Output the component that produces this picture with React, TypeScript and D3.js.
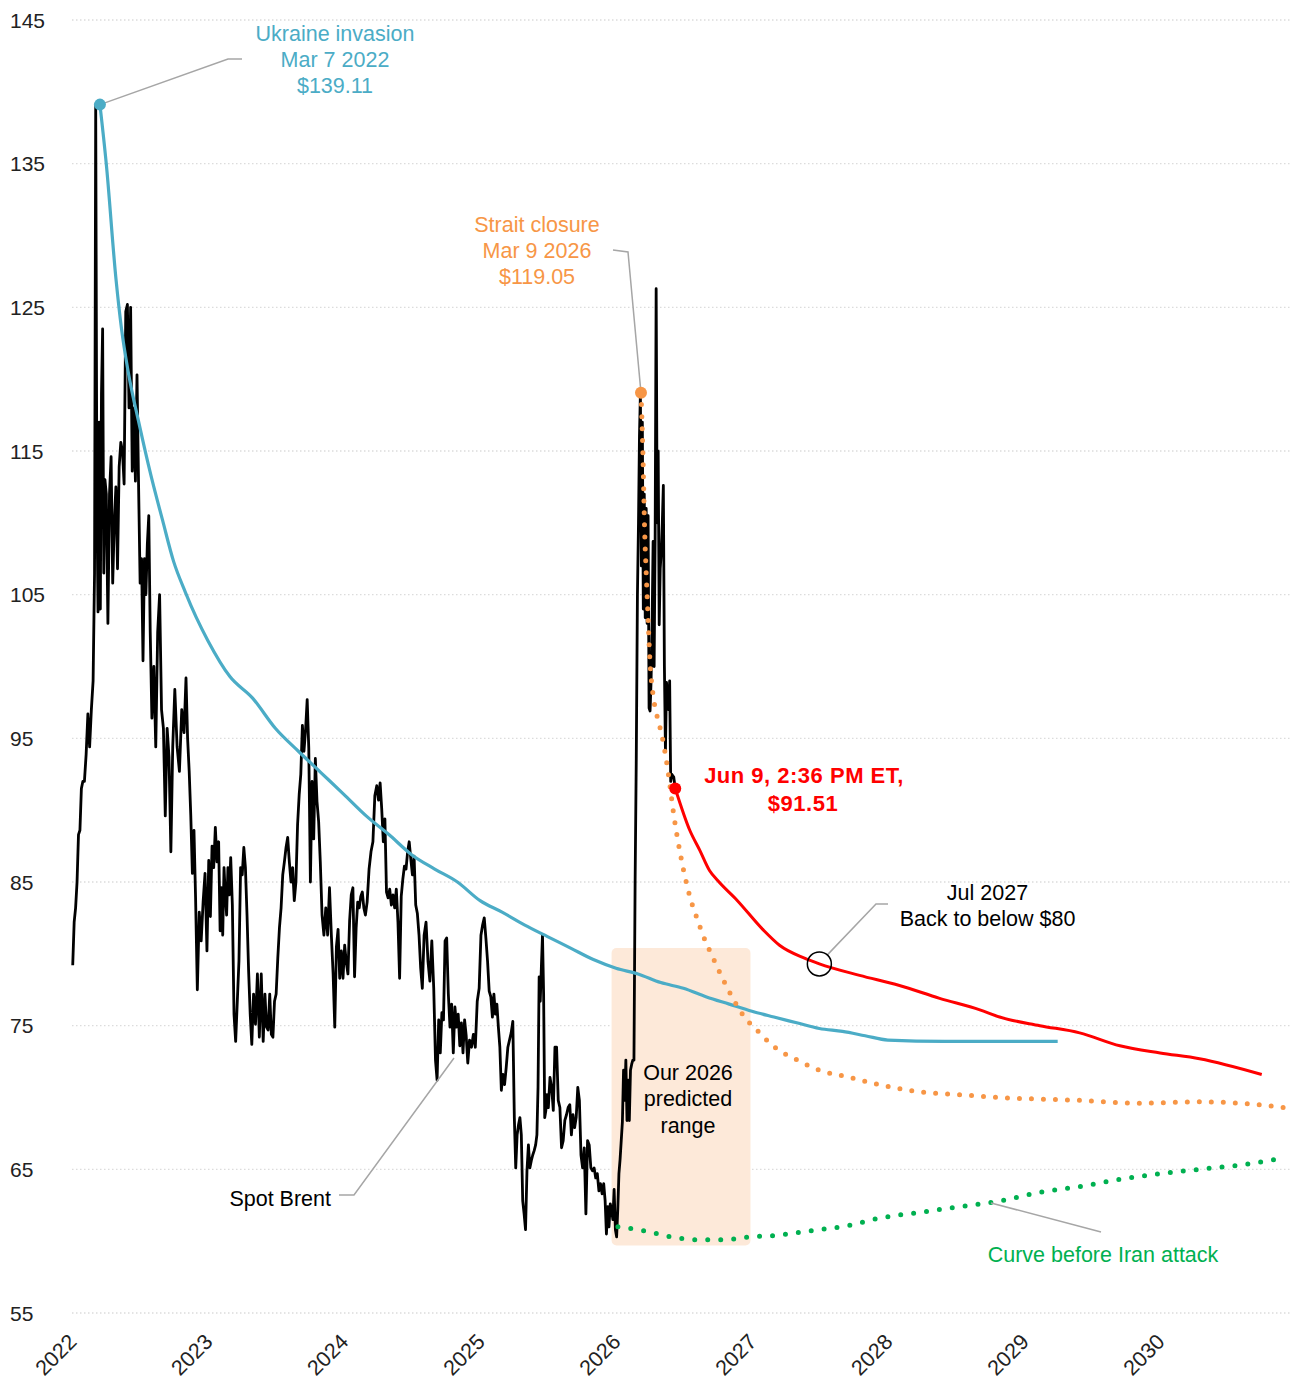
import React from "react";
import * as d3 from "d3";

// ---------- DATA ----------
const yTicks = [55, 65, 75, 85, 95, 105, 115, 125, 135, 145];
const yearTicks = [2022, 2023, 2024, 2025, 2026, 2027, 2028, 2029, 2030];

// Spot Brent: closes read per month, spread evenly through each month
const spotFirstMonth = "2022-01-01";
const spotCloses: number[][] = [
  [79.2, 82.2, 83.2, 85, 88.3, 88.6, 91.5, 92],
  [92, 93.9, 96.7, 94.4, 97, 99],
  [106.5, 139.11, 112, 103.8, 117, 104, 119, 123.5, 106.5, 113],
  [112, 103, 112, 114.6, 105.8, 110, 112.5],
  [106.8, 113.9, 115.6, 115, 112.7, 124.7, 125.2],
  [118, 125, 113.6, 118, 112.9, 120.3, 112.5],
  [105.8, 107.5, 100.4, 107.5, 105, 108.5, 110.5, 102.4],
  [96.4, 100, 94.4, 102.4, 105, 97],
  [95.7, 89.6, 95.7, 93.7, 87.1, 94.4],
  [98.4, 94.4, 92.7, 97, 95.4],
  [99.2, 95, 92.7, 89.6, 85.6, 88.6, 83.9],
  [77.5, 82.9, 80.9, 83.6, 85.6, 80.2],
  [86.5, 82.6, 87.5, 86, 88.8, 86.4, 87.8],
  [81.6, 84.6, 81.3, 86, 84.1, 82.7, 86, 84.1],
  [86.7, 83.4, 75.8, 73.9, 76.7, 79.5, 86],
  [85.5, 87.4, 86, 82.7, 78.8, 75.8, 73.7],
  [77.2, 75.1, 78.6, 74.2, 78.6, 73.9],
  [77.2, 74.9, 74.7, 77.2, 74.4, 74.2, 76.7],
  [77.2, 79.7, 81.8, 83.2, 85.5, 86.4, 87.4],
  [88.1, 86.4, 85, 86, 83.7, 85, 89],
  [91.1, 92.5, 95.9, 94.1, 95.6, 97.7, 94.3],
  [85, 92, 88, 93.6, 90.6, 89.2, 86.4],
  [82.7, 81.3, 83.2, 81.3, 84.6, 81.3],
  [78.6, 74.9, 80.5, 81.7, 78.3, 80.2, 78.3],
  [80.6, 79.4, 78.6, 82.3, 84.1, 84.6, 78.4],
  [81.8, 83.6, 83.2, 84, 84.3, 83.2, 82.7],
  [83.6, 85.9, 87.1, 87.8, 91, 91.7],
  [90.7, 91.9, 90.1, 87.8, 89.4, 84.3, 83.9],
  [84.5, 83.4, 84.1, 83.2, 84.5, 82.2, 78.3],
  [84, 85.2, 86.1, 85.9, 87.1, 87.8, 86.6],
  [85.5, 86.8, 83.4, 82.8, 81.3, 79, 77.6],
  [81.3, 82.2, 79.5, 78.1, 80.9, 77.6],
  [72.6, 71.2, 75.4, 73.1, 75.9, 75.4, 80.9],
  [81.1, 77.2, 74.9, 76.5, 73.1, 76.3, 74.9],
  [75.8, 73.6, 75.2, 73.1, 75.4, 74.3, 72.4],
  [74, 73.5, 74.4, 73.5, 76.7, 77.6],
  [81.3, 82, 82.5, 81.1, 79.5, 77.4, 77],
  [75.6, 77.2, 75.8, 76.5, 74.9, 73.5, 70.5],
  [71.6, 70.9, 72.1, 73.5, 74, 74.5, 75.3],
  [68.6, 65.1, 67.4, 68.1, 68.6, 67.4, 62.8, 61.9],
  [60.8, 64.9, 66.7, 65.1, 65.6, 66, 66.3, 66.7],
  [67.4, 70.7, 78.4, 76.7, 79.1, 81.3, 77.2, 68.6, 69.1, 70.2],
  [69.3, 71.4, 70.7, 69.1, 73.5, 73.5, 69.8],
  [69.3, 66.5, 67, 68.4, 68.8, 69.3, 69.5],
  [67.4, 68.8, 67.9, 68.6, 70.7, 69.8, 66],
  [65.1, 66.5, 61.9, 67, 66.7, 65.1, 64.9],
  [65.1, 64.4, 64.7, 63.5, 64, 63.3, 64],
  [62.8, 60.5, 62.4, 61, 62.6, 62.2, 61.5, 63.6, 60.8],
  [60.3, 62.2, 64.7, 65.7, 67, 68.3, 71.9, 69.8, 72.6, 68.4],
  [71.2, 68.4, 71.9, 72.3, 72.6, 72.6, 85, 93.6, 105],
  [110, 116, 119.05, 107, 117, 104, 112, 103.4, 111, 103, 110.5, 97.1],
  [96.9, 99, 103, 108.7, 100, 109, 126.3, 110, 115, 102.9, 106.8],
  [108, 110, 112.6, 100, 94.1, 98.9, 98, 97, 99, 92, 92.5],
  [92.3],
];
const latestDate = "2026-06-09";
const latestPrice = 91.51;

// Forward curve on Ukraine invasion day
const ukraineDates = ["2022-03-17", "2022-04-03", "2022-04-29", "2022-05-14", "2022-06-01", "2022-07-01", "2022-08-01", "2022-09-01", "2022-10-01", "2022-11-01", "2022-12-01", "2023-01-01", "2023-03-01", "2023-05-01", "2023-07-01", "2023-09-01", "2023-11-01", "2024-01-01", "2024-03-01", "2024-05-01", "2024-07-01", "2024-09-01", "2024-11-01", "2025-01-01", "2025-03-01", "2025-05-01", "2025-07-01", "2025-09-01", "2025-11-01", "2026-01-01", "2026-03-01", "2026-05-01", "2026-07-01", "2026-09-01", "2026-11-01", "2027-01-01", "2027-03-01", "2027-05-01", "2027-07-01", "2027-09-01", "2027-11-01", "2028-01-01", "2028-06-01", "2029-04-01"];
const ukraineValues = [139.11, 135, 127, 123.5, 120.5, 116.8, 113.3, 110.2, 107.3, 105.2, 103.4, 101.8, 99.3, 97.8, 95.7, 94.1, 92.6, 91.1, 89.6, 88.3, 86.9, 85.9, 85.0, 83.7, 82.9, 82.0, 81.2, 80.4, 79.6, 79.0, 78.6, 78.0, 77.6, 77.0, 76.5, 76.0, 75.6, 75.2, 74.8, 74.6, 74.3, 74.0, 73.9, 73.9];

// Forward curve on Strait closure day
const straitDates = ["2026-03-09", "2026-03-14", "2026-03-19", "2026-03-23", "2026-03-28", "2026-04-01", "2026-04-10", "2026-04-19", "2026-05-05", "2026-05-20", "2026-06-06", "2026-06-26", "2026-07-18", "2026-08-06", "2026-08-24", "2026-09-17", "2026-10-14", "2026-11-13", "2026-12-12", "2027-01-14", "2027-03-03", "2027-05-03", "2027-07-02", "2027-09-20", "2027-12-09", "2028-03-26", "2028-07-11", "2028-10-27", "2029-05-30", "2029-11-07", "2030-04-17", "2030-08-03", "2030-12-01"];
const straitValues = [119.05, 115, 109.3, 106.5, 103.4, 100.9, 98.1, 96.8, 95.1, 92.8, 89.5, 86.5, 84, 82.5, 81.2, 79.8, 78.3, 76.8, 75.6, 74.7, 73.5, 72.6, 71.9, 71.4, 70.9, 70.4, 70.2, 70.0, 69.8, 69.6, 69.7, 69.6, 69.3];

// Current curve (Jun 9)
const currentDates = ["2026-06-09", "2026-07-18", "2026-08-14", "2026-09-09", "2026-10-01", "2026-11-23", "2027-01-30", "2027-03-16", "2027-05-22", "2027-07-01", "2027-10-17", "2028-02-01", "2028-05-19", "2028-09-04", "2028-10-27", "2029-02-12", "2029-05-30", "2029-09-15", "2030-01-01", "2030-04-17", "2030-10-01"];
const currentValues = [91.51, 88.6, 87.2, 85.8, 85.1, 83.7, 81.7, 80.6, 79.7, 79.3, 78.5, 77.8, 76.9, 76.1, 75.6, 75.0, 74.5, 73.6, 73.1, 72.7, 71.6];

// Curve before Iran attack
const preAttackDates = ["2026-01-06", "2026-03-22", "2026-05-27", "2026-08-08", "2026-10-17", "2026-12-26", "2027-03-08", "2027-05-03", "2027-07-02", "2027-09-20", "2027-12-09", "2028-03-26", "2028-07-11", "2028-10-27", "2029-02-12", "2029-05-30", "2029-09-15", "2030-01-01", "2030-04-17", "2030-08-03", "2030-12-01"];
const preAttackValues = [61.0, 60.7, 60.3, 60.1, 60.1, 60.3, 60.4, 60.6, 60.8, 61.1, 61.6, 62.0, 62.4, 62.8, 63.4, 63.8, 64.3, 64.7, 65.0, 65.3, 65.8];

// Predicted 2026 range box
const rangeDates = ["2025-12-20", "2026-12-28"];
const rangeValues = [59.7, 80.4];

const backBelowDate = "2027-07-01";
const backBelowValue = 79.3;

// ---------- STYLE ----------
const W = 1295;
const H = 1379;
const FONT = "'Liberation Sans', Arial, sans-serif";
const BLUE = "#4bacc6";
const ORANGE = "#f79646";
const GREEN = "#00b050";
const RED = "#ff0000";

const parse = d3.timeParse("%Y-%m-%d");

export default function App() {
  const x = d3.scaleTime().domain([new Date(2022, 0, 1), new Date(2031, 0, 1)]).range([72, 1296]);
  const y = d3.scaleLinear().domain([55, 145]).range([1313, 20]);

  // spot series
  const months = d3.timeMonth.range(parse(spotFirstMonth)!, new Date(2026, 6, 1));
  const last = parse(latestDate)!;
  const spot: [Date, number][] = [];
  spotCloses.forEach((vals, i) => {
    const start = months[i];
    const end = i === spotCloses.length - 1 ? last : d3.timeMonth.offset(start, 1);
    vals.forEach((v, j) => {
      const t = start.getTime() + ((j + 0.5) / vals.length) * (end.getTime() - start.getTime());
      spot.push([new Date(t), v]);
    });
  });
  spot.push([last, latestPrice]);

  const line = d3.line<[Date, number]>().x((d) => x(d[0])).y((d) => y(d[1]));
  const smooth = d3.line<[Date, number]>().x((d) => x(d[0])).y((d) => y(d[1])).curve(d3.curveMonotoneX);
  const zip = (ds: string[], vs: number[]) => ds.map((d, i) => [parse(d)!, vs[i]] as [Date, number]);

  const ukraine = zip(ukraineDates, ukraineValues);
  const strait = zip(straitDates, straitValues);
  const current = zip(currentDates, currentValues);
  const pre = zip(preAttackDates, preAttackValues);

  const rx0 = x(parse(rangeDates[0])!);
  const rx1 = x(parse(rangeDates[1])!);
  const ry0 = y(rangeValues[1]);
  const ry1 = y(rangeValues[0]);

  const uPt = [x(ukraine[0][0]), y(ukraine[0][1])];
  const sPt = [x(strait[0][0]), y(strait[0][1])];
  const cPt = [x(last), y(latestPrice)];
  const bPt = [x(parse(backBelowDate)!), y(backBelowValue)];

  const gridX1 = 1290;
  const leader = "#a6a6a6";

  return (
    <svg
      width={W}
      height={H}
      style={{ position: "absolute", left: 0, top: 0, display: "block", background: "#fff" }}
      fontFamily={FONT}
    >
      {/* grid */}
      {yTicks.map((t) => (
        <g key={t}>
          <line x1={72} x2={gridX1} y1={y(t)} y2={y(t)} stroke="#dcdcdc" strokeWidth={1.3} strokeDasharray="1.5 2.5" />
          <text x={10} y={y(t)} dy="0.36em" fontSize={21} fill="#222">
            {t}
          </text>
        </g>
      ))}
      {yearTicks.map((yr) => {
        const px = x(new Date(yr, 0, 1));
        return (
          <text key={yr} transform={`translate(${px + 6},${1343}) rotate(-45)`} textAnchor="end" fontSize={21.5} fill="#222">
            {yr}
          </text>
        );
      })}

      {/* predicted range */}
      <rect x={rx0} y={ry0} width={rx1 - rx0} height={ry1 - ry0} rx={5} fill="#fde9d9" />

      {/* spot */}
      <path d={line(spot)!} fill="none" stroke="#000" strokeWidth={2.8} strokeLinejoin="round" />

      {/* ukraine curve */}
      <path d={smooth(ukraine)!} fill="none" stroke={BLUE} strokeWidth={3.2} />

      {/* strait curve */}
      <path d={smooth(strait)!} fill="none" stroke={ORANGE} strokeWidth={5} strokeLinecap="round" strokeDasharray="0 12" />

      {/* pre-attack curve */}
      <path d={smooth(pre)!} fill="none" stroke={GREEN} strokeWidth={5} strokeLinecap="round" strokeDasharray="0 13" />

      {/* current curve */}
      <path d={smooth(current)!} fill="none" stroke={RED} strokeWidth={3} />

      {/* leader lines */}
      <polyline points={`${uPt[0]},${uPt[1]} 228,59 242,59`} fill="none" stroke={leader} strokeWidth={1.5} />
      <polyline points={`613,250 628,252 ${sPt[0]},${sPt[1]}`} fill="none" stroke={leader} strokeWidth={1.5} />
      <polyline points={`339,1195 354,1195 454,1058`} fill="none" stroke={leader} strokeWidth={1.5} />
      <polyline points={`991,1203 1101,1232`} fill="none" stroke={leader} strokeWidth={1.5} />
      <polyline points={`${bPt[0] + 8},${bPt[1] - 9} 876,904 888,904`} fill="none" stroke={leader} strokeWidth={1.5} />

      {/* dots */}
      <circle cx={uPt[0]} cy={uPt[1]} r={6} fill={BLUE} />
      <circle cx={sPt[0]} cy={sPt[1]} r={6} fill={ORANGE} />
      <circle cx={cPt[0]} cy={cPt[1]} r={6} fill={RED} />
      <circle cx={bPt[0]} cy={bPt[1]} r={12} fill="none" stroke="#000" strokeWidth={1.5} />

      {/* annotations */}
      <g fontSize={21.5} textAnchor="middle" fill={BLUE}>
        <text x={335} y={40.5}>Ukraine invasion</text>
        <text x={335} y={66.5}>Mar 7 2022</text>
        <text x={335} y={92.5}>$139.11</text>
      </g>
      <g fontSize={21.5} textAnchor="middle" fill={ORANGE}>
        <text x={537} y={231.5}>Strait closure</text>
        <text x={537} y={257.5}>Mar 9 2026</text>
        <text x={537} y={283.5}>$119.05</text>
      </g>
      <g fontSize={22} fontWeight="bold" textAnchor="middle" fill={RED} letterSpacing={0.5}>
        <text x={804} y={783}>Jun 9, 2:36 PM ET,</text>
        <text x={803} y={811}>$91.51</text>
      </g>
      <g fontSize={21.5} textAnchor="middle" fill="#000">
        <text x={987.5} y={899.5}>Jul 2027</text>
        <text x={987.5} y={925.5}>Back to below $80</text>
      </g>
      <g fontSize={21.5} textAnchor="middle" fill="#000">
        <text x={688} y={1079.5}>Our 2026</text>
        <text x={688} y={1105.5}>predicted</text>
        <text x={688} y={1132.5}>range</text>
      </g>
      <text x={331} y={1205.5} fontSize={21.5} textAnchor="end" fill="#000">
        Spot Brent
      </text>
      <text x={1103} y={1261.5} fontSize={21.5} textAnchor="middle" fill={GREEN}>
        Curve before Iran attack
      </text>
    </svg>
  );
}
